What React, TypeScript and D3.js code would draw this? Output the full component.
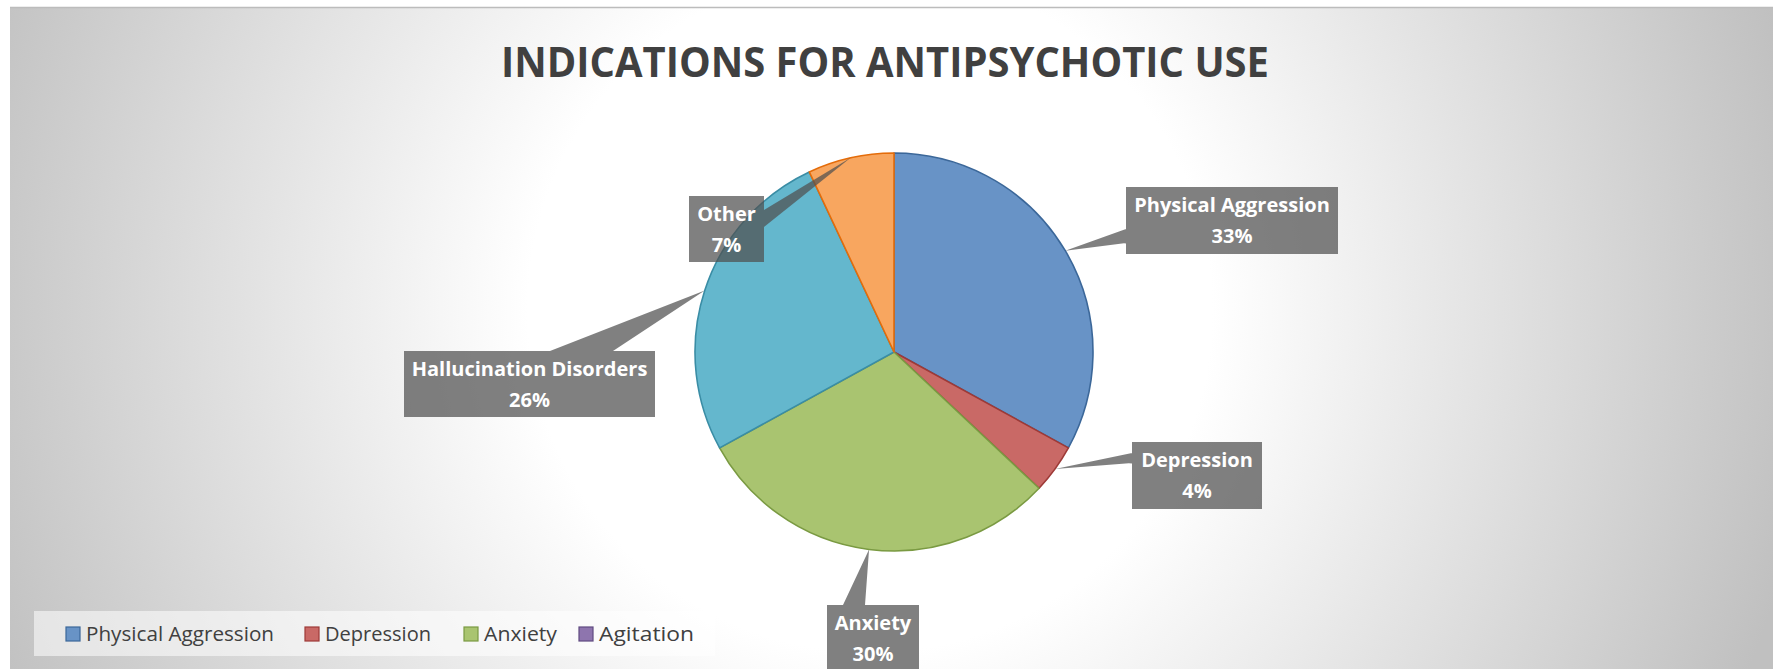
import React from "react";
import * as d3 from "d3";

// ---- data ----
const categories = ["Physical Aggression", "Depression", "Anxiety", "Agitation", "Hallucination Disorders", "Other"];
const values = [33, 4, 30, 0, 26, 7];
const percentLabels = ["33%", "4%", "30%", "0%", "26%", "7%"];
const fills = ["#6893C6", "#C96966", "#A9C470", "#8E75AE", "#64B7CD", "#F8A65F"];
const strokes = ["#3B6799", "#9E3A37", "#7A9A42", "#5F4A80", "#3A8DA5", "#E46C0A"];
const legendCategories = ["Physical Aggression", "Depression", "Anxiety", "Agitation"];
const title = "INDICATIONS FOR ANTIPSYCHOTIC USE";

// ---- layout (page coordinates) ----
const W = 1773;
const H = 669;
const CX = 894;
const CY = 352;
const R = 199;
const labelBoxes: Record<string, { x: number; y: number; w: number; h: number; base: [number, number][] }> = {
  "Physical Aggression": { x: 1126, y: 187, w: 212, h: 67, base: [[1126, 229], [1126, 243]] },
  Depression: { x: 1132, y: 442, w: 130, h: 67, base: [[1132, 453], [1132, 463]] },
  Anxiety: { x: 827, y: 605, w: 92, h: 67, base: [[843, 605], [865, 605]] },
  "Hallucination Disorders": { x: 404, y: 351, w: 251, h: 66, base: [[550, 351], [613, 351]] },
  Other: { x: 689, y: 196, w: 75, h: 66, base: [[764, 210], [764, 227]] },
};
const legendX = [66, 305, 464, 579];
const legendTextW = [188, 106, 73, 95];
const FONT = "'Open Sans', 'DejaVu Sans', sans-serif";

export default function App() {
  const pie = d3
    .pie<number>()
    .sort(null)
    .value((d) => d)
    .startAngle(0)
    .endAngle(2 * Math.PI);
  const arcs = pie(values);
  const arcGen = d3.arc<d3.PieArcDatum<number>>().innerRadius(0).outerRadius(R);

  return (
    <svg
      width={W}
      height={H}
      style={{ position: "absolute", left: 0, top: 0, display: "block" }}
      xmlns="http://www.w3.org/2000/svg"
    >
      <defs>
        <radialGradient id="bg" gradientUnits="userSpaceOnUse" cx={870} cy={310} r={950}>
          <stop offset="0" stopColor="#ffffff" />
          <stop offset="0.36" stopColor="#ffffff" />
          <stop offset="1" stopColor="#c0c0c0" />
        </radialGradient>
      </defs>
      <rect x={0} y={0} width={W} height={H} fill="#ffffff" />
      <rect x={10} y={7} width={W - 10} height={H - 7} fill="url(#bg)" />
      <line x1={10} x2={W} y1={7.5} y2={7.5} stroke="#bcbcbc" strokeWidth={1.5} />

      <text
        x={885}
        y={77}
        textAnchor="middle"
        fontFamily={FONT}
        fontWeight="bold"
        fontSize={42}
        fill="#404040"
        textLength={768}
        lengthAdjust="spacingAndGlyphs"
      >
        {title}
      </text>

      <g transform={`translate(${CX},${CY})`}>
        {arcs.map((a, i) =>
          values[i] > 0 ? (
            <path
              key={categories[i]}
              d={arcGen(a) || ""}
              fill={fills[i]}
              stroke={strokes[i]}
              strokeWidth={1.6}
              strokeLinejoin="round"
            />
          ) : null
        )}
      </g>

      {arcs.map((a, i) => {
        const box = labelBoxes[categories[i]];
        if (!box || values[i] <= 0) return null;
        const mid = (a.startAngle + a.endAngle) / 2;
        const tipX = CX + R * Math.sin(mid);
        const tipY = CY - R * Math.cos(mid);
        const [b1, b2] = box.base;
        const d =
          `M${box.x},${box.y}H${box.x + box.w}V${box.y + box.h}H${box.x}Z` +
          `M${b1[0]},${b1[1]}L${tipX},${tipY}L${b2[0]},${b2[1]}Z`;
        const cx = box.x + box.w / 2;
        return (
          <g key={"lbl" + categories[i]}>
            <path d={d} fill="#505050" fillOpacity={0.726} fillRule="nonzero" />
            <text x={cx} y={box.y + 25} textAnchor="middle" fontFamily={FONT} fontWeight="bold" fontSize={20} fill="#ffffff">
              {categories[i]}
            </text>
            <text x={cx} y={box.y + 56} textAnchor="middle" fontFamily={FONT} fontWeight="bold" fontSize={20} fill="#ffffff">
              {percentLabels[i]}
            </text>
          </g>
        );
      })}

      <rect x={34} y={611} width={681} height={45} fill="#ffffff" fillOpacity={0.55} />
      {legendCategories.map((c, j) => {
        const i = categories.indexOf(c);
        return (
          <g key={"leg" + c}>
            <rect x={legendX[j]} y={627} width={14} height={14} fill={fills[i]} stroke={strokes[i]} strokeWidth={1.2} />
            <text
              x={legendX[j] + 20}
              y={641}
              fontFamily={FONT}
              fontSize={20}
              fill="#404040"
              textLength={legendTextW[j]}
              lengthAdjust="spacingAndGlyphs"
            >
              {c}
            </text>
          </g>
        );
      })}
    </svg>
  );
}
